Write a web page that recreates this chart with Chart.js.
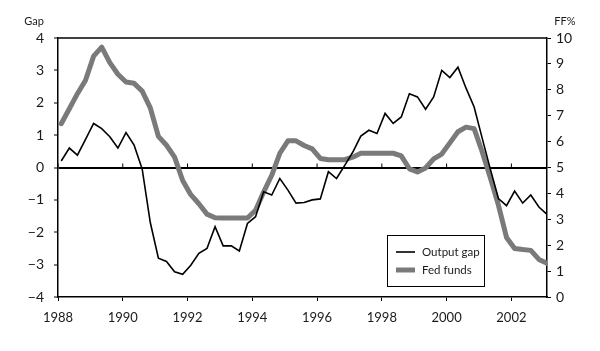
<!DOCTYPE html>
<html>
<head>
<meta charset="utf-8">
<script src="https://cdn.jsdelivr.net/npm/chart.js@4.4.1/dist/chart.umd.min.js"></script>
<style>
html, body { margin: 0; padding: 0; background: #fff; }
#wrap { width: 600px; height: 351px; position: relative; }
</style>
</head>
<body>
<div id="wrap"><canvas id="gapChart"></canvas></div>
<script>
const quarters = [
    '1988Q1','1988Q2','1988Q3','1988Q4',
    '1989Q1','1989Q2','1989Q3','1989Q4',
    '1990Q1','1990Q2','1990Q3','1990Q4',
    '1991Q1','1991Q2','1991Q3','1991Q4',
    '1992Q1','1992Q2','1992Q3','1992Q4',
    '1993Q1','1993Q2','1993Q3','1993Q4',
    '1994Q1','1994Q2','1994Q3','1994Q4',
    '1995Q1','1995Q2','1995Q3','1995Q4',
    '1996Q1','1996Q2','1996Q3','1996Q4',
    '1997Q1','1997Q2','1997Q3','1997Q4',
    '1998Q1','1998Q2','1998Q3','1998Q4',
    '1999Q1','1999Q2','1999Q3','1999Q4',
    '2000Q1','2000Q2','2000Q3','2000Q4',
    '2001Q1','2001Q2','2001Q3','2001Q4',
    '2002Q1','2002Q2','2002Q3','2002Q4',
    '2003Q1'
];

// output gap, percent (left axis)
const outputGap = [
    0.2, 0.6, 0.38, 0.87, 1.36, 1.2, 0.95, 0.6, 1.08, 0.69,
    -0.05, -1.7, -2.8, -2.9, -3.22, -3.3, -3.02, -2.65, -2.5, -1.83,
    -2.42, -2.42, -2.58, -1.73, -1.52, -0.75, -0.85, -0.34, -0.7, -1.1,
    -1.08, -1.0, -0.97, -0.13, -0.34, 0.06, 0.47, 0.97, 1.15, 1.05,
    1.67, 1.36, 1.56, 2.28, 2.18, 1.8, 2.18, 3.0, 2.78, 3.1,
    2.45, 1.87, 0.9, -0.05, -0.96, -1.18, -0.73, -1.1, -0.85, -1.22,
    -1.45
];

// fed funds rate, percent (right axis)
const fedFunds = [
    6.69, 7.27, 7.85, 8.37, 9.3, 9.65, 9.05, 8.6, 8.3, 8.25,
    7.95, 7.3, 6.2, 5.86, 5.4, 4.5, 3.95, 3.6, 3.2, 3.06,
    3.05, 3.05, 3.05, 3.05, 3.35, 4.05, 4.7, 5.55, 6.03, 6.03,
    5.85, 5.72, 5.35, 5.3, 5.3, 5.3, 5.4, 5.55, 5.55, 5.55,
    5.55, 5.55, 5.45, 4.95, 4.83, 4.98, 5.33, 5.52, 5.95, 6.38,
    6.56, 6.5, 5.6, 4.6, 3.55, 2.3, 1.87, 1.83, 1.8, 1.45,
    1.3
];

const seriesNames = ['Output gap', 'Fed funds'];

function quarterToYear(q) {
    // start of the quarter, nudged a bit right like the printed chart
    return +q.slice(0, 4) + (+q.slice(5) - 1) / 4 + 0.1;
}

function toPoints(values) {
    return values.map(function (v, i) {
        return { x: quarterToYear(quarters[i]), y: v };
    });
}

Chart.defaults.font.family = 'Lato, "DejaVu Sans", sans-serif';
Chart.defaults.font.size = 13;
Chart.defaults.color = '#1a1a1a';

// frame top line, little ticks on the zero line, axis titles and the boxed legend
const decorations = {
    id: 'decorations',
    afterDatasetsDraw(chart) {
        const ctx = chart.ctx;
        const area = chart.chartArea;
        const x = chart.scales.x;
        const zeroY = chart.scales.y.getPixelForValue(0);
        ctx.save();
        ctx.strokeStyle = '#000';
        ctx.lineWidth = 1.5;
        ctx.beginPath();
        ctx.moveTo(area.left, area.top);
        ctx.lineTo(area.right, area.top);
        ctx.stroke();

        ctx.lineWidth = 1;
        x.ticks.forEach(function (t) {
            const px = x.getPixelForValue(t.value);
            ctx.beginPath();
            ctx.moveTo(px, zeroY - 4);
            ctx.lineTo(px, zeroY);
            ctx.stroke();
        });

        ctx.fillStyle = '#1a1a1a';
        ctx.font = '11px Lato, "DejaVu Sans", sans-serif';
        ctx.textAlign = 'center';
        ctx.textBaseline = 'middle';
        ctx.fillText('Gap', 34, 21);
        ctx.fillText('FF%', 565, 21);

        // legend box
        const bx = 387, by = 235, bw = 97, bh = 51;
        ctx.fillStyle = '#fff';
        ctx.fillRect(bx, by, bw, bh);
        ctx.strokeStyle = '#000';
        ctx.lineWidth = 1;
        ctx.strokeRect(bx + 0.5, by + 0.5, bw, bh);
        ctx.font = '11.5px Lato, "DejaVu Sans", sans-serif';
        ctx.textAlign = 'left';
        chart.data.datasets.forEach(function (ds, i) {
            const ly = by + 17 + i * 18;
            ctx.strokeStyle = ds.borderColor;
            ctx.lineWidth = ds.borderWidth;
            ctx.lineCap = 'butt';
            ctx.beginPath();
            ctx.moveTo(bx + 9, ly);
            ctx.lineTo(bx + 28, ly);
            ctx.stroke();
            ctx.fillStyle = '#1a1a1a';
            ctx.fillText(ds.label, bx + 35, ly);
        });
        ctx.restore();
    }
};

new Chart(document.getElementById('gapChart'), {
    type: 'line',
    data: {
        datasets: [
            {
                label: seriesNames[0],
                data: toPoints(outputGap),
                yAxisID: 'y',
                borderColor: '#000',
                borderWidth: 1.6,
                pointRadius: 0,
                tension: 0,
                order: 0
            },
            {
                label: seriesNames[1],
                data: toPoints(fedFunds),
                yAxisID: 'y1',
                borderColor: '#7a7a7a',
                borderWidth: 5,
                borderJoinStyle: 'round',
                borderCapStyle: 'round',
                pointRadius: 0,
                tension: 0,
                order: 1
            }
        ]
    },
    options: {
        responsive: true,
        maintainAspectRatio: false,
        animation: false,
        layout: { padding: { top: 38, left: 0, right: 0, bottom: 0 } },
        plugins: {
            legend: { display: false },
            tooltip: { enabled: false }
        },
        scales: {
            x: {
                type: 'linear',
                min: 1988,
                max: 2003.1,
                afterFit: function (scale) { scale.height = 54; },
                border: { color: '#000', width: 1.5 },
                grid: { drawOnChartArea: false, tickLength: 4, tickColor: '#000' },
                ticks: {
                    stepSize: 2,
                    includeBounds: false,
                    padding: 9,
                    maxRotation: 0,
                    callback: function (v) { return String(v); }
                }
            },
            y: {
                position: 'left',
                min: -4,
                max: 4,
                afterFit: function (scale) { scale.width = 58; },
                border: { color: '#000', width: 1.5 },
                grid: {
                    color: function (c) { return c.tick && c.tick.value === 0 ? '#000' : 'rgba(0,0,0,0)'; },
                    lineWidth: 2,
                    tickLength: 4,
                    tickColor: '#000',
                    tickWidth: 1
                },
                ticks: {
                    stepSize: 1,
                    padding: 10,
                    font: { size: 14 },
                    callback: function (v) { return v < 0 ? '\u2212' + Math.abs(v) : String(v); }
                }
            },
            y1: {
                position: 'right',
                min: 0,
                max: 10,
                afterFit: function (scale) { scale.width = 53; },
                border: { color: '#000', width: 1.5 },
                grid: { drawOnChartArea: false, tickLength: 4, tickColor: '#000' },
                ticks: {
                    stepSize: 1,
                    padding: 5,
                    font: { size: 14 },
                    callback: function (v) { return String(v); }
                }
            }
        }
    },
    plugins: [decorations]
});
</script>
</body>
</html>
